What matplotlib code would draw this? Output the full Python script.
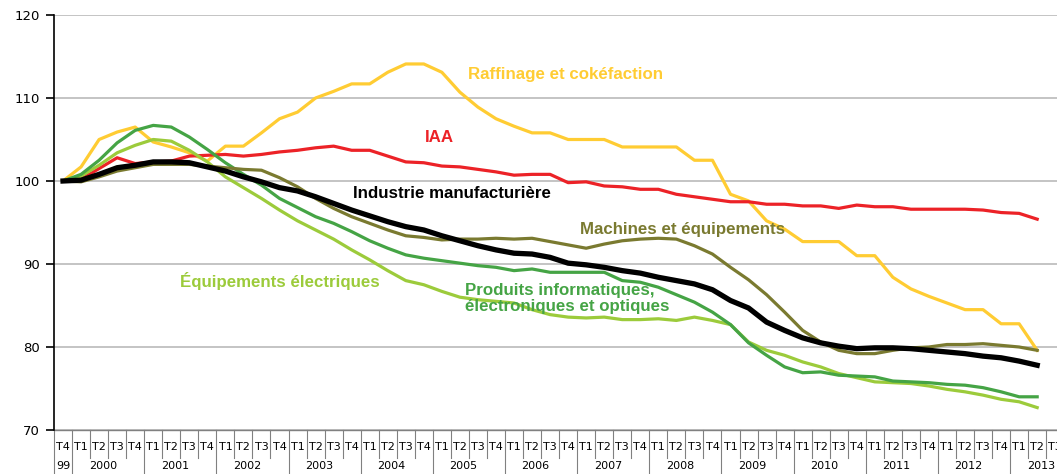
import numpy as np
import matplotlib.pyplot as plt
import matplotlib.transforms as mtransforms

# Quarterly indices, base 100 = T4 1999, up to T2 2013
raffinage = [100, 101.7, 105.0, 105.9, 106.5, 104.7, 104.1, 103.4, 102.4, 104.2,
             104.2, 105.8, 107.5, 108.3, 110.0, 110.8, 111.7, 111.7, 113.1, 114.1,
             114.1, 113.1, 110.7, 108.9, 107.5, 106.6, 105.8, 105.8, 105.0, 105.0,
             105.0, 104.1, 104.1, 104.1, 104.1, 102.5, 102.5, 98.4, 97.6, 95.2,
             94.2, 92.7, 92.7, 92.7, 91.0, 91.0, 88.4, 87.0, 86.1, 85.3,
             84.5, 84.5, 82.8, 82.8, 79.6]
iaa = [100, 100.2, 101.5, 102.8, 102.1, 102.3, 102.4, 103.0, 103.1, 103.2,
       103.0, 103.2, 103.5, 103.7, 104.0, 104.2, 103.7, 103.7, 103.0, 102.3,
       102.2, 101.8, 101.7, 101.4, 101.1, 100.7, 100.8, 100.8, 99.8, 99.9,
       99.4, 99.3, 99.0, 99.0, 98.4, 98.1, 97.8, 97.5, 97.5, 97.2,
       97.2, 97.0, 97.0, 96.7, 97.1, 96.9, 96.9, 96.6, 96.6, 96.6,
       96.6, 96.5, 96.2, 96.1, 95.4]
industrie = [100, 100.1, 100.8, 101.6, 101.9, 102.3, 102.3, 102.2, 101.7, 101.2,
             100.5, 99.9, 99.2, 98.8, 98.1, 97.3, 96.5, 95.8, 95.1, 94.5,
             94.1, 93.4, 92.8, 92.2, 91.7, 91.3, 91.2, 90.8, 90.1, 89.9,
             89.6, 89.2, 88.9, 88.4, 88.0, 87.6, 86.9, 85.6, 84.7, 83.0,
             82.0, 81.1, 80.5, 80.1, 79.8, 79.9, 79.9, 79.8, 79.6, 79.4,
             79.2, 78.9, 78.7, 78.3, 77.8]
machines = [100, 99.9, 100.5, 101.2, 101.6, 102.0, 102.0, 102.0, 101.8, 101.6,
            101.4, 101.3, 100.4, 99.3, 97.9, 96.7, 95.7, 94.9, 94.1, 93.4,
            93.2, 92.9, 93.0, 93.0, 93.1, 93.0, 93.1, 92.7, 92.3, 91.9,
            92.4, 92.8, 93.0, 93.1, 93.0, 92.2, 91.2, 89.6, 88.1, 86.3,
            84.2, 82.0, 80.6, 79.6, 79.2, 79.2, 79.6, 79.9, 80.0, 80.3,
            80.3, 80.4, 80.2, 80.0, 79.6]
informatique = [100, 100.8, 102.5, 104.6, 106.1, 106.7, 106.5, 105.3, 103.8, 102.2,
                100.8, 99.5, 97.9, 96.8, 95.7, 94.9, 93.9, 92.8, 91.9, 91.1,
                90.7, 90.4, 90.1, 89.8, 89.6, 89.2, 89.4, 89.0, 89.0, 89.0,
                89.0, 88.0, 87.8, 87.2, 86.3, 85.4, 84.2, 82.7, 80.5, 79.0,
                77.6, 76.9, 77.0, 76.6, 76.5, 76.4, 75.9, 75.8, 75.7, 75.5,
                75.4, 75.1, 74.6, 74.0, 74.0]
electriques = [100, 100.6, 101.9, 103.4, 104.3, 105.0, 104.8, 103.7, 102.3, 100.5,
               99.2, 97.9, 96.5, 95.2, 94.1, 93.0, 91.7, 90.5, 89.2, 88.0,
               87.5, 86.7, 86.0, 85.7, 85.5, 85.3, 84.5, 83.9, 83.6, 83.5,
               83.6, 83.3, 83.3, 83.4, 83.2, 83.6, 83.2, 82.7, 80.6, 79.6,
               79.0, 78.2, 77.6, 76.8, 76.3, 75.8, 75.7, 75.6, 75.3, 74.9,
               74.6, 74.2, 73.7, 73.4, 72.7]

quarters = ["T4"] + ["T1", "T2", "T3", "T4"] * 13 + ["T1", "T2", "T3"]
years = ["99"] + [str(y) for y in range(2000, 2014)]

YELLOW = "#FFCC33"
RED = "#EC2227"
OLIVE = "#7A7A30"
GREEN = "#45A445"
LGREEN = "#9CCB3B"

fig = plt.figure(figsize=(10.57, 4.74), dpi=100)
n_slots = len(quarters)
ax = fig.add_axes([54 / 1057, 44 / 474, n_slots * 18.04 / 1057, 415 / 474])

x = np.arange(len(industrie))
ax.plot(x, raffinage, color=YELLOW, lw=2.3)
ax.plot(x, iaa, color=RED, lw=2.3)
ax.plot(x, electriques, color=LGREEN, lw=2.3)
ax.plot(x, informatique, color=GREEN, lw=2.3)
ax.plot(x, machines, color=OLIVE, lw=2.3)
ax.plot(x, industrie, color="black", lw=3.8)

ax.set_xlim(-0.5, n_slots - 0.5)
ax.set_ylim(70, 120)
ax.set_yticks([70, 80, 90, 100, 110, 120])
ax.yaxis.grid(True, color="#B4B4B4", lw=1.1)
ax.set_axisbelow(True)
for s in ["top", "right", "bottom"]:
    ax.spines[s].set_visible(False)
ax.spines["left"].set_linewidth(1.2)
ax.tick_params(axis="y", direction="out", length=6, width=1.2, labelsize=9.5, pad=4)
ax.set_xticks([])

# category "table" under the plot
trans = mtransforms.blended_transform_factory(ax.transData, ax.transAxes)
ax.plot([-0.5, n_slots - 0.5], [0, 0], color="#808080", lw=1, transform=trans, clip_on=False)
for i, q in enumerate(quarters):
    ax.text(i, -0.041, q, transform=trans, ha="center", va="center", fontsize=8)
    left = i - 0.5
    bottom = -0.11 if q == "T1" or i == 0 else -0.067
    ax.plot([left, left], [0, bottom], color="#808080", lw=0.8, transform=trans, clip_on=False)
ax.text(0, -0.087, years[0], transform=trans, ha="center", va="center", fontsize=8)
for k, yr in enumerate(years[1:]):
    ax.text(2.2 + 4 * k, -0.087, yr, transform=trans, ha="center", va="center", fontsize=8)

# series labels
lab = dict(fontsize=12.2, fontweight="bold", family="Liberation Sans", va="center", ha="left")
ax.text(22.45, 112.8, "Raffinage et cokéfaction", color=YELLOW, **lab)
ax.text(20.07, 105.3, "IAA", color=RED, **lab)
ax.text(16.07, 98.55, "Industrie manufacturière", color="black", **lab)
ax.text(28.66, 94.1, "Machines et équipements", color=OLIVE, **lab)
ax.text(6.49, 87.9, "Équipements électriques", color=LGREEN, **lab)
ax.text(22.28, 85.85, "Produits informatiques,\nélectroniques et optiques", color=GREEN,
        linespacing=1.1, **lab)

fig.savefig("out.png", dpi=100)
